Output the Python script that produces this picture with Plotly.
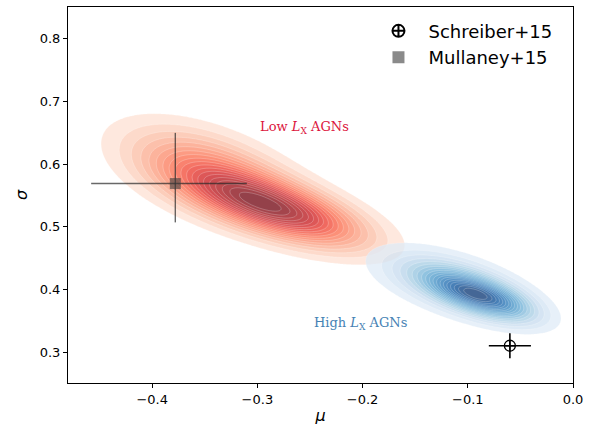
import numpy as np
import plotly.graph_objects as go

# ---- data ----
# Each posterior cloud summarised as two Gaussian components:
# (weight, centre mu, centre sigma, spread mu, spread sigma, correlation)
low_components = [
    (0.62, -0.284, 0.530, 0.052, 0.038, -0.66),
    (0.38, -0.345, 0.587, 0.050, 0.046, -0.52),
]
high_components = [
    (0.60, -0.089, 0.390, 0.030, 0.024, -0.62),
    (0.40, -0.115, 0.410, 0.041, 0.032, -0.55),
]

n_levels = 20
thresh = 0.05

schreiber_mu = [-0.060]
schreiber_sigma = [0.310]
schreiber_mu_err = [0.020]
schreiber_sigma_err = [0.020]

mullaney_mu = [-0.378]
mullaney_sigma = [0.569]
mullaney_mu_err_plus = [0.068]
mullaney_mu_err_minus = [0.080]
mullaney_sigma_err_plus = [0.081]
mullaney_sigma_err_minus = [0.062]

x_ticks = [-0.4, -0.3, -0.2, -0.1, 0.0]
y_ticks = [0.3, 0.4, 0.5, 0.6, 0.7, 0.8]

reds = [(255,245,240),(254,224,210),(252,187,161),(252,146,114),(251,106,74),
        (239,59,44),(203,24,29),(165,15,21),(103,0,13)]
blues = [(247,251,255),(222,235,247),(198,219,239),(158,202,225),(107,174,214),
         (66,146,198),(33,113,181),(8,81,156),(8,48,107)]

gx = np.linspace(-0.52, 0.03, 360)
gy = np.linspace(0.22, 0.87, 360)
X, Y = np.meshgrid(gx, gy)


def density(components):
    Z = np.zeros_like(X)
    for w, cx, cy, sx, sy, r in components:
        dx = (X - cx) / sx
        dy = (Y - cy) / sy
        q = (dx * dx - 2 * r * dx * dy + dy * dy) / (1 - r * r)
        Z += w * np.exp(-0.5 * q) / (sx * sy * np.sqrt(1 - r * r))
    # iso-proportion transform: fraction of mass lying at lower density
    flat = Z.ravel()
    order = np.argsort(flat)
    cum = np.cumsum(flat[order])
    cum /= cum[-1]
    P = np.empty_like(flat)
    P[order] = cum
    return P.reshape(Z.shape)


def cmap(stops, t):
    t = min(max(t, 0), 1) * (len(stops) - 1)
    i = min(int(t), len(stops) - 2)
    f = t - i
    a, b = stops[i], stops[i + 1]
    return tuple(int(round(a[k] + (b[k] - a[k]) * f)) for k in range(3))


def scale(stops):
    nb = n_levels - 1
    cs = [[0.0, 'rgba(255,255,255,0)'], [0.5 / nb, 'rgba(255,255,255,0)']]
    for k in range(1, nb + 1):
        c = cmap(stops, 0.08 + 0.92 * ((k - 0.5) / nb) ** 0.85)
        cs.append([k / nb, 'rgb(%d,%d,%d)' % c])
    return cs


def contour(Z, stops):
    nb = n_levels - 1
    size = (1 - thresh) / nb
    return go.Contour(
        x=gx, y=gy, z=Z, colorscale=scale(stops), showscale=False,
        contours=dict(start=thresh, end=thresh + size * (nb - 1) + 1e-9, size=size, coloring='fill'),
        line=dict(width=0.4, color='rgba(255,255,255,0.6)'),
        opacity=0.75, hoverinfo='skip', showlegend=False)


fig = go.Figure()
fig.add_trace(contour(density(low_components), reds))
fig.add_trace(contour(density(high_components), blues))

fig.add_trace(go.Scatter(
    x=schreiber_mu, y=schreiber_sigma, mode='markers', name='Schreiber+15',
    marker=dict(symbol='circle-cross-open', size=11, color='black', line=dict(width=1.3, color='black')),
    error_x=dict(type='data', array=schreiber_mu_err, color='black', thickness=1.6, width=0),
    error_y=dict(type='data', array=schreiber_sigma_err, color='black', thickness=1.6, width=0)))

fig.add_trace(go.Scatter(
    x=mullaney_mu, y=mullaney_sigma, mode='markers', name='Mullaney+15',
    marker=dict(symbol='square', size=11, color='rgba(60,60,60,0.6)', line=dict(width=0)),
    error_x=dict(type='data', symmetric=False, array=mullaney_mu_err_plus, arrayminus=mullaney_mu_err_minus,
                 color='rgba(40,40,40,0.7)', thickness=1.4, width=0),
    error_y=dict(type='data', symmetric=False, array=mullaney_sigma_err_plus, arrayminus=mullaney_sigma_err_minus,
                 color='rgba(40,40,40,0.7)', thickness=1.4, width=0)))

fig.add_annotation(x=-0.255, y=0.658, text='Low <i>L</i><sub>X</sub> AGNs', showarrow=False,
                   font=dict(family='DejaVu Serif', size=13, color='crimson'))
fig.add_annotation(x=-0.202, y=0.346, text='High <i>L</i><sub>X</sub> AGNs', showarrow=False,
                   font=dict(family='DejaVu Serif', size=13, color='steelblue'))

axis_common = dict(showgrid=False, zeroline=False, showline=True, linecolor='black', linewidth=1,
                   mirror=True, ticks='outside', ticklen=4, tickwidth=1, tickcolor='black',
                   tickfont=dict(family='DejaVu Sans', size=13, color='black'), automargin=False)
fig.update_xaxes(range=[-0.48, 0.0], tickvals=x_ticks, ticktext=['\u22120.4', '\u22120.3', '\u22120.2', '\u22120.1', '0.0'],
                 title=dict(text='<i>\u03bc</i>', font=dict(family='DejaVu Sans', size=16, color='black'), standoff=4),
                 **axis_common)
fig.update_yaxes(range=[0.2505, 0.851], tickvals=y_ticks, tickformat='.1f',
                 title=dict(text='<i>\u03c3</i>', font=dict(family='DejaVu Sans', size=16, color='black'), standoff=8),
                 **axis_common)

fig.update_layout(
    width=595, height=428, margin=dict(l=68, r=22, t=7, b=45, autoexpand=False),
    plot_bgcolor='white', paper_bgcolor='white',
    legend=dict(x=0.595, y=0.985, xanchor='left', yanchor='top', bgcolor='rgba(255,255,255,0)',
                font=dict(family='DejaVu Sans', size=18, color='black'), itemsizing='constant',
                itemwidth=50, tracegroupgap=4),
)

fig.write_html('out.html', config={'displayModeBar': False},
               post_script="document.body.style.margin='0';document.body.style.overflow='hidden';")
